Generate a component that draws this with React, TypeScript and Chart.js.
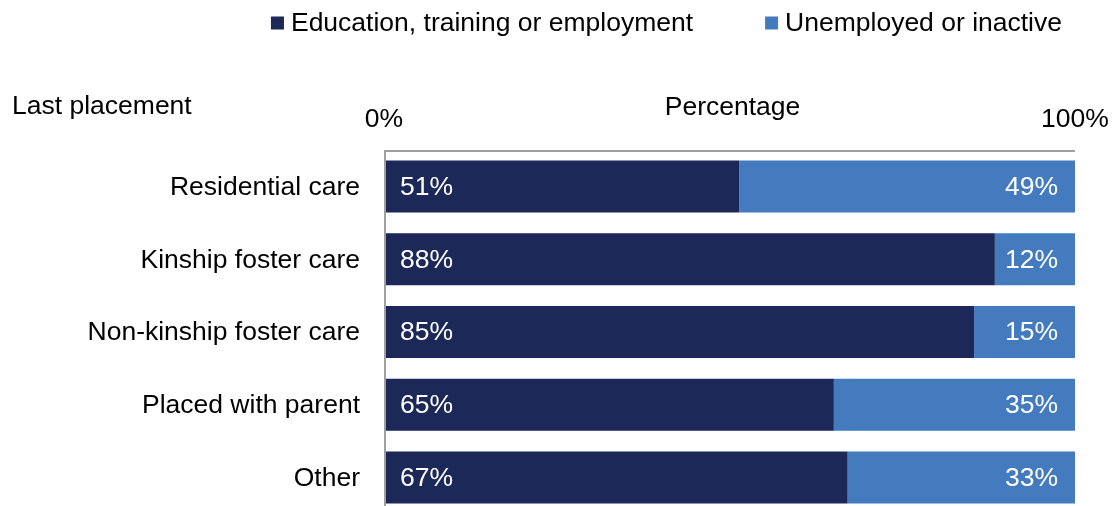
import React, { useEffect, useRef } from "react";
import { Chart, registerables } from "chart.js";

Chart.register(...registerables);

const categories = [
  "Residential care",
  "Kinship foster care",
  "Non-kinship foster care",
  "Placed with parent",
  "Other",
];
const eduValues = [51.4, 88.4, 85.4, 65.1, 67.1];
const unempValues = [48.6, 11.6, 14.6, 34.9, 32.9];
const seriesNames = ["Education, training or employment", "Unemployed or inactive"];
const xTickLabels = ["0%", "100%"];
const yAxisTitle = "Last placement";
const xAxisTitle = "Percentage";

const NAVY = "#1c2958";
const BLUE = "#447bbf";
const FONT = '"Liberation Sans", Arial, sans-serif';
const FS = 26.5;

const W = 1116;
const H = 520;

const textPlugin = {
  id: "customText",
  afterDatasetsDraw(chart: any) {
    const ctx = chart.ctx;
    const x = chart.scales.x;
    const y = chart.scales.y;
    const area = chart.chartArea;
    ctx.save();
    ctx.font = `${FS}px ${FONT}`;
    ctx.textBaseline = "middle";

    // value labels
    chart.data.datasets.forEach((ds: any, di: number) => {
      const meta = chart.getDatasetMeta(di);
      meta.data.forEach((el: any, i: number) => {
        const v = Math.round(ds.data[i]);
        ctx.fillStyle = "#ffffff";
        if (di === 0) {
          ctx.textAlign = "left";
          ctx.fillText(`${v}%`, el.base + 16, el.y + 1);
        } else {
          ctx.textAlign = "right";
          ctx.fillText(`${v}%`, el.x - 17, el.y + 1);
        }
      });
    });

    // axis lines
    ctx.strokeStyle = "#a0a0a0";
    ctx.lineWidth = 2;
    ctx.beginPath();
    ctx.moveTo(area.left, area.top + 1);
    ctx.lineTo(area.right, area.top + 1);
    ctx.moveTo(area.left + 1, area.top);
    ctx.lineTo(area.left + 1, chart.height);
    ctx.stroke();

    // category labels
    ctx.fillStyle = "#000000";
    ctx.textAlign = "right";
    categories.forEach((c, i) => {
      ctx.fillText(c, area.left - 24, y.getPixelForValue(i) + 1);
    });

    // x tick labels
    ctx.textAlign = "center";
    ctx.fillText(xTickLabels[0], x.getPixelForValue(0), 120);
    ctx.fillText(xTickLabels[1], x.getPixelForValue(100), 120);

    // titles
    ctx.fillText(xAxisTitle, (area.left + area.right) / 2 + 3, 108);
    ctx.textAlign = "left";
    ctx.fillText(yAxisTitle, 12, 107);

    // legend (right aligned)
    const colors = [NAVY, BLUE];
    const sq = 13;
    const gapSqText = 7;
    const gapItems = 72;
    const w1 = ctx.measureText(seriesNames[0]).width;
    const w2 = ctx.measureText(seriesNames[1]).width;
    const end = 1062;
    const t2 = end - w2;
    const s2 = t2 - gapSqText - sq;
    const t1 = s2 - gapItems - w1;
    const s1 = t1 - gapSqText - sq;
    const ly = 23;
    ctx.fillStyle = colors[0];
    ctx.fillRect(s1, ly - sq / 2, sq, sq);
    ctx.fillStyle = colors[1];
    ctx.fillRect(s2, ly - sq / 2, sq, sq);
    ctx.fillStyle = "#000000";
    ctx.fillText(seriesNames[0], t1, ly + 1);
    ctx.fillText(seriesNames[1], t2, ly + 1);
    ctx.restore();
  },
};

export default function App() {
  const ref = useRef<HTMLCanvasElement>(null);
  useEffect(() => {
    if (!ref.current) return;
    const chart = new Chart(ref.current, {
      type: "bar",
      data: {
        labels: categories,
        datasets: [
          {
            label: seriesNames[0],
            data: eduValues,
            backgroundColor: NAVY,
            borderWidth: 0,
            barPercentage: 0.714,
            categoryPercentage: 1,
          },
          {
            label: seriesNames[1],
            data: unempValues,
            backgroundColor: BLUE,
            borderWidth: 0,
            barPercentage: 0.714,
            categoryPercentage: 1,
          },
        ],
      },
      options: {
        indexAxis: "y",
        responsive: false,
        animation: false,
        layout: { padding: { left: 384, right: W - 1075, top: 150, bottom: H - 514 } },
        plugins: {
          legend: { display: false },
          tooltip: { enabled: false },
          title: { display: false },
        },
        scales: {
          x: { stacked: true, min: 0, max: 100, display: false },
          y: { stacked: true, display: false },
        },
      },
      plugins: [textPlugin],
    });
    return () => chart.destroy();
  }, []);
  return (
    <div
      style={{
        position: "fixed",
        left: 0,
        top: 0,
        width: W,
        height: 506,
        overflow: "hidden",
        background: "#ffffff",
      }}
    >
      <canvas ref={ref} width={W} height={H} style={{ width: W, height: H, display: "block" }} />
    </div>
  );
}
